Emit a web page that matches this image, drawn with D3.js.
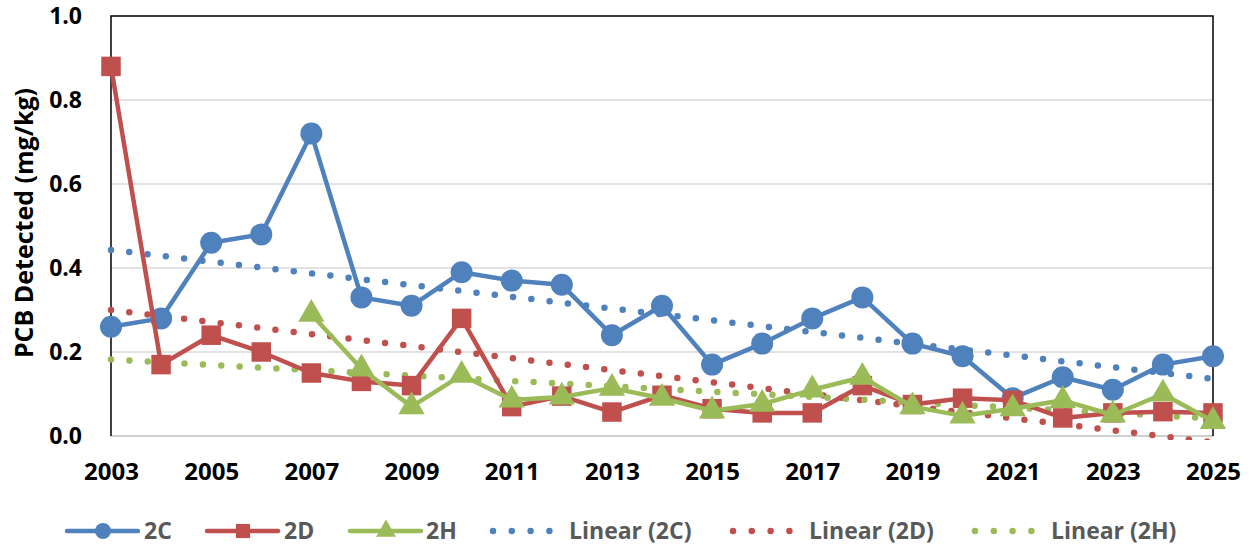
<!DOCTYPE html>
<html>
<head>
<meta charset="utf-8">
<script src="https://cdn.jsdelivr.net/npm/d3@7"></script>
<style>
  body { margin: 0; background: #fff; }
  text { font-family: "Open Sans", "Liberation Sans", sans-serif; font-weight: bold; }
</style>
</head>
<body>
<svg id="chart" width="1257" height="552"></svg>
<script>
// years on the x axis
const years = d3.range(2003, 2026);
const xTicks = [2003, 2005, 2007, 2009, 2011, 2013, 2015, 2017, 2019, 2021, 2023, 2025];
const yTicks = [0, 0.2, 0.4, 0.6, 0.8, 1.0];

const val2C = [0.26, 0.28, 0.46, 0.48, 0.72, 0.33, 0.31, 0.39, 0.37, 0.36, 0.24, 0.31,
               0.17, 0.22, 0.28, 0.33, 0.22, 0.19, 0.09, 0.14, 0.11, 0.17, 0.19];
const val2D = [0.88, 0.17, 0.24, 0.20, 0.15, 0.13, 0.12, 0.28, 0.07, 0.095, 0.057, 0.097,
               0.065, 0.055, 0.055, 0.12, 0.075, 0.09, 0.085, 0.043, 0.055, 0.058, 0.055];
const val2H = [null, null, null, null, 0.29, 0.16, 0.07, 0.145, 0.086, 0.093, 0.114, 0.09,
               0.06, 0.076, 0.11, 0.14, 0.07, 0.048, 0.065, 0.085, 0.05, 0.10, 0.035];

// trendline end points [2003, 2025]
const trend2C = [0.443, 0.136];
const trend2D = [0.300, -0.015];
const trend2H = [0.182, 0.042];

const blue = "#4F81BD", red = "#C0504D", green = "#9BBB59";

const svg = d3.select("#chart");
const margin = {left: 111, top: 16, right: 44, bottom: 116};
const width = 1257, height = 552;

const x = d3.scaleLinear().domain([2003, 2025]).range([margin.left, width - margin.right]);
const y = d3.scaleLinear().domain([0, 1]).range([height - margin.bottom, margin.top]);

// gridlines
svg.append("g")
    .selectAll("line")
    .data(yTicks.filter(d => d > 0 && d < 1))
    .enter().append("line")
    .attr("x1", x(2003)).attr("x2", x(2025))
    .attr("y1", d => y(d)).attr("y2", d => y(d))
    .attr("stroke", "#d9d9d9").attr("stroke-width", 1.5);

// plot frame: black top/left/right, grey bottom
svg.append("line")
    .attr("x1", x(2003)).attr("x2", x(2025)).attr("y1", y(0)).attr("y2", y(0))
    .attr("stroke", "#bfbfbf").attr("stroke-width", 1.5);
svg.append("path")
    .attr("d", "M" + x(2003) + "," + y(0) + "V" + y(1) + "H" + x(2025) + "V" + y(0))
    .attr("fill", "none").attr("stroke", "#000").attr("stroke-width", 1.5);

// axes
const yAxis = d3.axisLeft(y).tickValues(yTicks).tickFormat(d3.format(".1f")).tickSize(0).tickPadding(29);
svg.append("g")
    .attr("transform", "translate(" + margin.left + ",0)")
    .call(yAxis)
    .call(g => g.select(".domain").remove())
    .selectAll("text")
    .attr("font-size", 23).attr("fill", "#000")
    .style("font-family", "'Open Sans', sans-serif");

const xAxis = d3.axisBottom(x).tickValues(xTicks).tickFormat(d3.format("d")).tickSize(0).tickPadding(27);
svg.append("g")
    .attr("transform", "translate(0," + y(0) + ")")
    .call(xAxis)
    .call(g => g.select(".domain").remove())
    .selectAll("text")
    .attr("font-size", 24).attr("fill", "#000")
    .style("font-family", "'Open Sans', sans-serif");

// y title
svg.append("text")
    .attr("transform", "translate(33," + 223 + ")rotate(-90)")
    .attr("text-anchor", "middle")
    .attr("font-size", 25)
    .text("PCB Detected (mg/kg)");

// clip area for trendlines
svg.append("clipPath").attr("id", "plotclip")
    .append("rect")
    .attr("x", x(2003) - 4).attr("y", y(1))
    .attr("width", x(2025) - x(2003) + 4).attr("height", y(0) - y(1) + 4);

// trendlines (dotted)
const trends = [[trend2C, blue], [trend2D, red], [trend2H, green]];
trends.forEach(function(t) {
    svg.append("line")
        .attr("clip-path", "url(#plotclip)")
        .attr("x1", x(2003)).attr("y1", y(t[0][0]))
        .attr("x2", x(2025)).attr("y2", y(t[0][1]))
        .attr("stroke", t[1]).attr("stroke-width", 6.5)
        .attr("stroke-linecap", "round")
        .attr("stroke-dasharray", "0,18.4");
});

const line = d3.line()
    .defined(d => d.v !== null)
    .x(d => x(d.year))
    .y(d => y(d.v));

const toPts = arr => years.map((yr, i) => ({year: yr, v: arr[i]}));

const series = [
    {name: "2C", data: toPts(val2C), color: blue, shape: d3.symbolCircle, size: 380},
    {name: "2D", data: toPts(val2D), color: red, shape: d3.symbolSquare, size: 380},
    {name: "2H", data: toPts(val2H), color: green, shape: d3.symbolTriangle, size: 300}
];

series.forEach(function(s) {
    svg.append("path")
        .datum(s.data)
        .attr("fill", "none")
        .attr("stroke", s.color)
        .attr("stroke-width", 4.5)
        .attr("stroke-linejoin", "round")
        .attr("d", line);

    svg.append("g")
        .selectAll("path")
        .data(s.data.filter(d => d.v !== null))
        .enter().append("path")
        .attr("transform", d => "translate(" + x(d.year) + "," + y(d.v) + ")")
        .attr("d", d3.symbol().type(s.shape).size(s.size))
        .attr("fill", s.color);
});

// legend
const legendY = 531;
const legendItems = [
    {label: "2C", color: blue, shape: d3.symbolCircle, size: 200, x0: 67, tx: 144},
    {label: "2D", color: red, shape: d3.symbolSquare, size: 200, x0: 207, tx: 284},
    {label: "2H", color: green, shape: d3.symbolTriangle, size: 170, x0: 350, tx: 426}
];
legendItems.forEach(function(item) {
    svg.append("line")
        .attr("x1", item.x0).attr("x2", item.x0 + 71)
        .attr("y1", legendY).attr("y2", legendY)
        .attr("stroke", item.color).attr("stroke-width", 4.5)
        .attr("stroke-linecap", "round");
    svg.append("path")
        .attr("transform", "translate(" + (item.x0 + 36) + "," + legendY + ")")
        .attr("d", d3.symbol().type(item.shape).size(item.size))
        .attr("fill", item.color);
    svg.append("text")
        .attr("x", item.tx).attr("y", legendY + 8)
        .attr("font-size", 23).attr("fill", "#595959")
        .text(item.label);
});

const trendLegend = [
    {label: "Linear (2C)", color: blue, x0: 493, tx: 569},
    {label: "Linear (2D)", color: red, x0: 733, tx: 809},
    {label: "Linear (2H)", color: green, x0: 975, tx: 1051}
];
trendLegend.forEach(function(item) {
    svg.append("line")
        .attr("x1", item.x0).attr("x2", item.x0 + 57)
        .attr("y1", legendY).attr("y2", legendY)
        .attr("stroke", item.color).attr("stroke-width", 6.5)
        .attr("stroke-linecap", "round")
        .attr("stroke-dasharray", "0,18.8");
    svg.append("text")
        .attr("x", item.tx).attr("y", legendY + 8)
        .attr("font-size", 23).attr("fill", "#595959")
        .text(item.label);
});
</script>
</body>
</html>
